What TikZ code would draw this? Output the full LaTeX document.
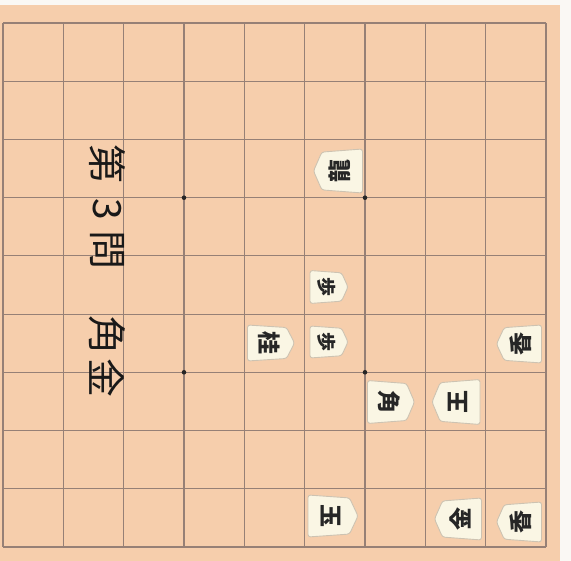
\documentclass[tikz,border=0pt]{standalone}
\usepackage{fontspec}
\newfontfamily\jp{Noto Sans CJK JP}
\definecolor{wood}{RGB}{246,206,172}
\definecolor{paper}{RGB}{250,248,244}
\definecolor{gridc}{RGB}{150,128,118}
\definecolor{komafill}{RGB}{250,246,228}
\definecolor{komaedge}{RGB}{205,195,178}
\tikzset{
  gridline/.style={draw=gridc, line width=1.1pt},
  komabody/.style={fill=komafill, draw=komaedge, line width=0.9pt, rounded corners=2.5pt},
  komatext/.style={inner sep=0pt, font=\jp\bfseries\fontsize{23}{23}\selectfont, text=black!85},
  smalltext/.style={inner sep=0pt, font=\jp\bfseries\fontsize{19}{19}\selectfont, text=black!85},
  captext/.style={inner sep=0pt, rotate=-90, font=\jp\fontsize{39}{39}\selectfont, text=black!90},
  star/.style={fill=black!85}
}
% #1 name, #2 x, #3 y, #4 w, #5 h, #6 dir (1 right,-1 left), #7 text style, #8 char
\newcommand\koma[8]{%
  \begin{scope}[shift={(#2,#3)}, xscale=#6]
    \path[komabody] (-#4/2,-#5/2) -- ({#4/2-0.17*#4},{-#5/2+0.07*#5}) -- (#4/2,0)
      -- ({#4/2-0.17*#4},{#5/2-0.07*#5}) -- (-#4/2,#5/2) -- cycle;
  \end{scope}
  \node[#7, rotate={-90*#6}] (#1) at ({#2-2*#6},#3) {#8};
}
\begin{document}
\begin{tikzpicture}[x=1pt,y=-1pt]
\useasboundingbox (0,0) rectangle (571,561);
\fill[paper] (0,0) rectangle (571,561);
\fill[wood] (0,5) rectangle (560,561);
% grid
\foreach \i in {0,...,9} {
  \draw[gridline] ({3+\i*60.33},23) -- ({3+\i*60.33},547);
  \draw[gridline] (3,{23+\i*58.22}) -- (546,{23+\i*58.22});
}
% star points
\fill[star] (184,197.7) circle (2.3pt);
\fill[star] (365,197.7) circle (2.3pt);
\fill[star] (184,372.3) circle (2.3pt);
\fill[star] (365,372.3) circle (2.3pt);
% caption
\node[captext] (t1) at (107,164) {第};
\node[captext] (t2) at (107,209) {3};
\node[captext] (t3) at (107,250) {問};
\node[captext] (t4) at (107,335) {角};
\node[captext] (t5) at (107,378) {金};
% pieces
\koma{p1}{338}{171}{49}{44}{-1}{komatext}{龍}
\koma{p2}{329}{287}{38}{33}{1}{smalltext}{歩}
\koma{p3}{329}{342}{38}{32}{1}{smalltext}{歩}
\koma{p4}{271}{343}{47}{36}{1}{komatext}{桂}
\koma{p5}{391}{402}{47}{43}{1}{komatext}{角}
\koma{p6}{456}{402}{48}{45}{-1}{komatext}{王}
\koma{p7}{519}{344}{45}{38}{-1}{komatext}{香}
\koma{p8}{333}{516}{50}{42}{1}{komatext}{玉}
\koma{p9}{458}{519}{47}{42}{-1}{komatext}{金}
\koma{p10}{519}{522}{45}{40}{-1}{komatext}{香}
\end{tikzpicture}
\end{document}
